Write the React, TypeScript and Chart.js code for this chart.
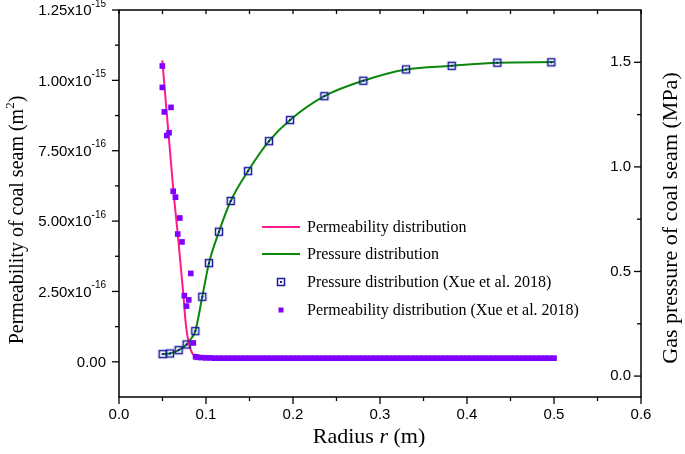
import React, { useEffect, useRef } from 'react';
import { Chart, registerables } from 'chart.js';

Chart.register(...registerables);

// ---------- data (radius r in m) ----------
// Permeability model curve (values in units of 1e-15 m^2)
const permLineR = [0.0498, 0.0626, 0.0675, 0.0741, 0.0764, 0.0782, 0.081, 0.0839, 0.0874, 0.0943, 0.5];
const permLineK = [1.071, 0.605, 0.455, 0.235, 0.146, 0.1, 0.057, 0.032, 0.02, 0.015, 0.013];

// Pressure model curve (MPa)
const presLineR = [0.05, 0.0586, 0.0686, 0.0778, 0.0816, 0.0877, 0.0957, 0.1034, 0.1149, 0.1284, 0.1483, 0.1724, 0.1966, 0.236, 0.2808, 0.3299, 0.3824, 0.4348, 0.5];
const presLineP = [0.105, 0.108, 0.124, 0.151, 0.172, 0.215, 0.379, 0.54, 0.69, 0.837, 0.98, 1.123, 1.224, 1.338, 1.412, 1.466, 1.483, 1.498, 1.501];

// Pressure distribution (Xue et al. 2018), MPa
const presXueR = [0.0502, 0.0586, 0.0686, 0.0778, 0.0877, 0.0957, 0.1034, 0.1149, 0.1284, 0.1483, 0.1724, 0.1966, 0.236, 0.2808, 0.3299, 0.3824, 0.4348, 0.4969];
const presXueP = [0.105, 0.108, 0.124, 0.151, 0.215, 0.379, 0.54, 0.69, 0.837, 0.98, 1.123, 1.224, 1.338, 1.412, 1.466, 1.483, 1.498, 1.5];

// Permeability distribution (Xue et al. 2018), units of 1e-15 m^2
const permXueR = [0.0498, 0.0498, 0.0598, 0.0521, 0.0575, 0.0549, 0.0623, 0.0649, 0.0699, 0.0675, 0.0724, 0.0825, 0.0751, 0.0802, 0.0776, 0.0854];
const permXueK = [1.051, 0.975, 0.904, 0.888, 0.814, 0.804, 0.606, 0.585, 0.511, 0.454, 0.426, 0.314, 0.235, 0.22, 0.198, 0.067];

// dense flat tail of the same measured series
const permTailR = [
  0.088, 0.09, 0.095, 0.1, 0.105, 0.11, 0.115, 0.12, 0.125, 0.13, 0.135, 0.14, 0.145, 0.15, 0.155, 0.16, 0.165,
  0.17, 0.175, 0.18, 0.185, 0.19, 0.195, 0.2, 0.205, 0.21, 0.215, 0.22, 0.225, 0.23, 0.235, 0.24, 0.245, 0.25,
  0.255, 0.26, 0.265, 0.27, 0.275, 0.28, 0.285, 0.29, 0.295, 0.3, 0.305, 0.31, 0.315, 0.32, 0.325, 0.33, 0.335,
  0.34, 0.345, 0.35, 0.355, 0.36, 0.365, 0.37, 0.375, 0.38, 0.385, 0.39, 0.395, 0.4, 0.405, 0.41, 0.415, 0.42,
  0.425, 0.43, 0.435, 0.44, 0.445, 0.45, 0.455, 0.46, 0.465, 0.47, 0.475, 0.48, 0.485, 0.49, 0.495, 0.5,
];
const permTailK = [
  0.018, 0.016, 0.015, 0.014, 0.014, 0.013, 0.013, 0.013, 0.013, 0.013, 0.013, 0.013, 0.013, 0.013, 0.013, 0.013, 0.013,
  0.013, 0.013, 0.013, 0.013, 0.013, 0.013, 0.013, 0.013, 0.013, 0.013, 0.013, 0.013, 0.013, 0.013, 0.013, 0.013, 0.013,
  0.013, 0.013, 0.013, 0.013, 0.013, 0.013, 0.013, 0.013, 0.013, 0.013, 0.013, 0.013, 0.013, 0.013, 0.013, 0.013, 0.013,
  0.013, 0.013, 0.013, 0.013, 0.013, 0.013, 0.013, 0.013, 0.013, 0.013, 0.013, 0.013, 0.013, 0.013, 0.013, 0.013, 0.013,
  0.013, 0.013, 0.013, 0.013, 0.013, 0.013, 0.013, 0.013, 0.013, 0.013, 0.013, 0.013, 0.013, 0.013, 0.013, 0.013,
];

// ---------- ticks ----------
const xMajor = [0, 0.1, 0.2, 0.3, 0.4, 0.5, 0.6];
const xMajorLabels = ['0.0', '0.1', '0.2', '0.3', '0.4', '0.5', '0.6'];
const xMinor = [0.05, 0.15, 0.25, 0.35, 0.45, 0.55];

const leftMajor = [0, 2.5e-16, 5e-16, 7.5e-16, 1e-15, 1.25e-15];
const leftLabelBase = ['0.00', '2.50x10', '5.00x10', '7.50x10', '1.00x10', '1.25x10'];
const leftLabelExp = ['', '-16', '-16', '-16', '-15', '-15'];
const leftMinor = [1.25e-16, 3.75e-16, 6.25e-16, 8.75e-16, 1.125e-15];

const rightMajor = [0, 0.5, 1.0, 1.5];
const rightLabels = ['0.0', '0.5', '1.0', '1.5'];
const rightMinor = [0.25, 0.75, 1.25];

const legendItems = [
  'Permeability distribution',
  'Pressure distribution',
  'Pressure distribution (Xue et al. 2018)',
  'Permeability distribution (Xue et al. 2018)',
];

const PINK = '#ff1a8c';
const GREEN = '#0b870b';
const BLUE = '#1a1a9e';
const PURPLE = '#8000ff';

const SANS = '"Liberation Sans", Arial, sans-serif';
const SERIF = '"Liberation Serif", "Times New Roman", serif';

const pts = (xs: number[], ys: number[], k = 1) => xs.map((x, i) => ({ x, y: ys[i] * k }));

function makeMarker(): HTMLCanvasElement {
  const c = document.createElement('canvas');
  c.width = 12;
  c.height = 12;
  const g = c.getContext('2d')!;
  g.strokeStyle = BLUE;
  g.lineWidth = 1.5;
  g.strokeRect(2.5, 2.5, 7, 7);
  g.fillStyle = BLUE;
  g.fillRect(5, 5, 2, 2);
  return c;
}

export default function App() {
  const ref = useRef<HTMLCanvasElement>(null);

  useEffect(() => {
    const canvas = ref.current!;
    const marker = makeMarker();

    const framePlugin = {
      id: 'frame',
      afterDatasetsDraw(chart: any) {
        const { ctx, chartArea: a, scales } = chart;
        const sx = scales.x;
        const sl = scales.y;
        const sr = scales.y1;
        ctx.save();
        ctx.strokeStyle = '#000';
        ctx.lineWidth = 1.5;
        ctx.strokeRect(a.left, a.top, a.right - a.left, a.bottom - a.top);
        const seg = (x1: number, y1: number, x2: number, y2: number) => {
          ctx.beginPath();
          ctx.moveTo(x1, y1);
          ctx.lineTo(x2, y2);
          ctx.stroke();
        };
        ctx.lineWidth = 1.3;
        // x ticks (bottom outward, top inward)
        xMajor.forEach((v) => {
          const p = sx.getPixelForValue(v);
          seg(p, a.bottom, p, a.bottom + 7);
          seg(p, a.top, p, a.top + 4);
        });
        xMinor.forEach((v) => {
          const p = sx.getPixelForValue(v);
          seg(p, a.bottom, p, a.bottom + 4);
          seg(p, a.top, p, a.top + 4);
        });
        // left ticks outward
        leftMajor.forEach((v) => {
          const p = sl.getPixelForValue(v);
          seg(a.left - 7, p, a.left, p);
        });
        leftMinor.forEach((v) => {
          const p = sl.getPixelForValue(v);
          seg(a.left - 4, p, a.left, p);
        });
        // right ticks inward
        rightMajor.forEach((v) => {
          const p = sr.getPixelForValue(v);
          seg(a.right - 7, p, a.right, p);
        });
        rightMinor.forEach((v) => {
          const p = sr.getPixelForValue(v);
          seg(a.right - 4, p, a.right, p);
        });

        ctx.fillStyle = '#000';
        // x labels
        ctx.font = `15px ${SANS}`;
        ctx.textAlign = 'center';
        ctx.textBaseline = 'top';
        xMajor.forEach((v, i) => {
          ctx.fillText(xMajorLabels[i], sx.getPixelForValue(v), a.bottom + 10);
        });
        // right labels (inside)
        ctx.textAlign = 'right';
        ctx.textBaseline = 'middle';
        rightMajor.forEach((v, i) => {
          ctx.fillText(rightLabels[i], a.right - 10, sr.getPixelForValue(v));
        });
        // left labels with superscripts
        const lx = a.left - 13;
        leftMajor.forEach((v, i) => {
          const p = sl.getPixelForValue(v);
          let xe = lx;
          if (leftLabelExp[i]) {
            ctx.font = `10px ${SANS}`;
            ctx.textAlign = 'right';
            ctx.fillText(leftLabelExp[i], xe, p - 6);
            xe -= ctx.measureText(leftLabelExp[i]).width;
          }
          ctx.font = `15px ${SANS}`;
          ctx.textAlign = 'right';
          ctx.fillText(leftLabelBase[i], xe, p + 1);
        });

        // x title
        const TF = 22;
        ctx.textBaseline = 'middle';
        ctx.textAlign = 'left';
        const t1 = 'Radius ';
        const t3 = ' (m)';
        ctx.font = `${TF}px ${SERIF}`;
        const w1 = ctx.measureText(t1).width;
        const w3 = ctx.measureText(t3).width;
        ctx.font = `italic ${TF}px ${SERIF}`;
        const w2 = ctx.measureText('r').width;
        let xs = 369 - (w1 + w2 + w3) / 2;
        const ty = 437;
        ctx.font = `${TF}px ${SERIF}`;
        ctx.fillText(t1, xs, ty);
        xs += w1;
        ctx.font = `italic ${TF}px ${SERIF}`;
        ctx.fillText('r', xs, ty);
        xs += w2;
        ctx.font = `${TF}px ${SERIF}`;
        ctx.fillText(t3, xs, ty);

        // left title (rotated)
        ctx.save();
        ctx.translate(18, 220);
        ctx.rotate(-Math.PI / 2);
        const a1 = 'Permeability of coal seam (m';
        const a2 = '2';
        const a3 = ')';
        ctx.font = `20px ${SERIF}`;
        const aw1 = ctx.measureText(a1).width;
        const aw3 = ctx.measureText(a3).width;
        ctx.font = `13px ${SERIF}`;
        const aw2 = ctx.measureText(a2).width;
        let ax = -(aw1 + aw2 + aw3) / 2;
        ctx.font = `20px ${SERIF}`;
        ctx.fillText(a1, ax, 0);
        ax += aw1;
        ctx.font = `13px ${SERIF}`;
        ctx.fillText(a2, ax, -7);
        ax += aw2;
        ctx.font = `20px ${SERIF}`;
        ctx.fillText(a3, ax, 0);
        ctx.restore();

        // right title (rotated, reading upward)
        ctx.save();
        ctx.translate(671, 218);
        ctx.rotate(-Math.PI / 2);
        ctx.font = `22px ${SERIF}`;
        ctx.textAlign = 'center';
        ctx.fillText('Gas pressure of coal seam (MPa)', 0, 0);
        ctx.restore();

        // legend
        const rows = [227, 254, 282, 310];
        const sx0 = 262;
        const sx1 = 300;
        const sc = (sx0 + sx1) / 2;
        ctx.lineWidth = 2;
        ctx.strokeStyle = PINK;
        seg(sx0, rows[0], sx1, rows[0]);
        ctx.strokeStyle = GREEN;
        seg(sx0, rows[1], sx1, rows[1]);
        ctx.drawImage(marker, sc - 6, rows[2] - 6);
        ctx.fillStyle = PURPLE;
        ctx.fillRect(sc - 2.5, rows[3] - 2.5, 5, 5);
        ctx.fillStyle = '#000';
        ctx.font = `16px ${SERIF}`;
        ctx.textAlign = 'left';
        ctx.textBaseline = 'middle';
        legendItems.forEach((t, i) => ctx.fillText(t, 307, rows[i] + 1));
        ctx.restore();
      },
    };

    const chart = new Chart(canvas, {
      type: 'scatter',
      data: {
        datasets: [
          {
            label: legendItems[3],
            data: [...pts(permXueR, permXueK, 1e-15), ...pts(permTailR, permTailK, 1e-15)],
            yAxisID: 'y',
            showLine: false,
            pointStyle: 'rect',
            pointRadius: 4,
            pointBorderWidth: 0,
            backgroundColor: PURPLE,
            borderColor: PURPLE,
          },
          {
            label: legendItems[2],
            data: pts(presXueR, presXueP),
            yAxisID: 'y1',
            showLine: false,
            pointStyle: marker,
            pointRadius: 6,
            backgroundColor: BLUE,
            borderColor: BLUE,
          },
          {
            label: legendItems[0],
            data: pts(permLineR, permLineK, 1e-15),
            yAxisID: 'y',
            showLine: true,
            pointRadius: 0,
            borderColor: PINK,
            borderWidth: 2,
            cubicInterpolationMode: 'monotone',
          },
          {
            label: legendItems[1],
            data: pts(presLineR, presLineP),
            yAxisID: 'y1',
            showLine: true,
            pointRadius: 0,
            borderColor: GREEN,
            borderWidth: 2,
            cubicInterpolationMode: 'monotone',
          },
        ],
      } as any,
      options: {
        responsive: false,
        animation: false,
        devicePixelRatio: 1,
        events: [],
        layout: { padding: { left: 119, right: 44, top: 10, bottom: 57 } },
        plugins: { legend: { display: false }, tooltip: { enabled: false } },
        scales: {
          x: { type: 'linear', min: 0, max: 0.6, display: false },
          y: { type: 'linear', position: 'left', min: -1.25e-16, max: 1.25e-15, display: false },
          y1: { type: 'linear', position: 'right', min: -0.1, max: 1.75, display: false },
        },
      } as any,
      plugins: [framePlugin],
    });
    return () => chart.destroy();
  }, []);

  return (
    <div style={{ position: 'fixed', left: 0, top: 0, width: 685, height: 454, background: '#fff' }}>
      <canvas ref={ref} width={685} height={454} style={{ display: 'block', width: 685, height: 454 }} />
    </div>
  );
}
